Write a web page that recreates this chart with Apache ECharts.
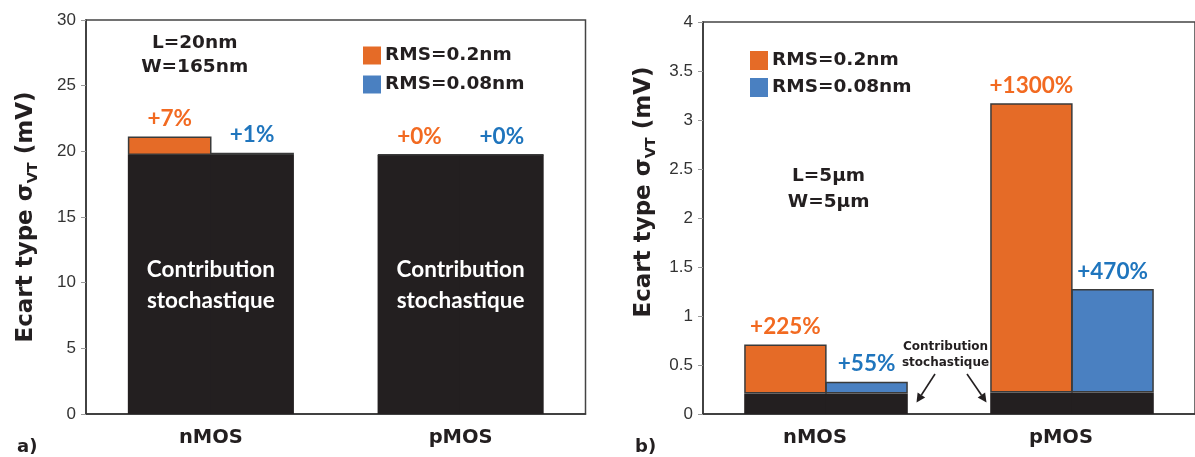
<!DOCTYPE html>
<html>
<head>
<meta charset="utf-8">
<script src="https://cdn.jsdelivr.net/npm/echarts@6/dist/echarts.min.js"></script>
<style>
  html, body { margin: 0; padding: 0; background: #fff; }
  #chart { width: 1195px; height: 457px; }
</style>
</head>
<body>
<div id="chart"></div>
<script>
// categories
const categories = ['nMOS', 'pMOS']

// a) L=20nm, W=165nm  (mV)
const stochA = [19.73, 19.73]
const rms02A = [21.12, 19.76]
const rms008A = [19.9, 19.74]
const pct02A = ['+7%', '+0%']
const pct008A = ['+1%', '+0%']

// b) L=5µm, W=5µm  (mV)
const stochB = [0.21, 0.22]
const rms02B = [0.71, 3.17]
const rms008B = [0.33, 1.275]
const pct02B = ['+225%', '+1300%']
const pct008B = ['+55%', '+470%']

const BLACK = '#231f20'
const ORANGE = '#e56b27'
const BLUE = '#4a80c1'
const ORANGE_TXT = '#f26a21'
const BLUE_TXT = '#1f75bd'
const BOLD_FONT = 'DejaVu Sans'

const chart = echarts.init(document.getElementById('chart'))

// one chart = black base + coloured increment, two stacks side by side
const buildSeries = (idx, base, hi, lo, pctHi, pctLo) => {
    const common = {
        type: 'bar',
        xAxisIndex: idx,
        yAxisIndex: idx,
        // slight overlap so the two black bases read as one block
        barGap: '-1.5%',
        barCategoryGap: '33.5%'
    }
    const pctLabel = (texts, color) => ({
        show: true,
        position: 'top',
        distance: 6,
        formatter: (p) => texts[p.dataIndex],
        color: color,
        fontFamily: 'Lato',
        fontWeight: 'bold',
        fontSize: 22.5
    })
    return [
        {
            ...common,
            name: 'Contribution stochastique',
            stack: 'hi' + idx,
            data: base,
            itemStyle: { color: BLACK }
        },
        {
            ...common,
            name: 'RMS=0.2nm',
            stack: 'hi' + idx,
            data: hi.map((v, i) => +(v - base[i]).toFixed(3)),
            itemStyle: { color: ORANGE, borderColor: '#3a3a3a', borderWidth: 1.5 },
            label: pctLabel(pctHi, ORANGE_TXT)
        },
        {
            ...common,
            name: 'Contribution stochastique',
            stack: 'lo' + idx,
            data: base,
            itemStyle: { color: BLACK }
        },
        {
            ...common,
            name: 'RMS=0.08nm',
            stack: 'lo' + idx,
            data: lo.map((v, i) => +(v - base[i]).toFixed(3)),
            itemStyle: { color: BLUE, borderColor: '#3a3a3a', borderWidth: 1.5 },
            label: pctLabel(pctLo, BLUE_TXT)
        }
    ]
}

const yName = '{a|Ecart type σ}{b|VT}{a| (mV)}'
const yNameStyle = (pad) => ({
    padding: pad,
    rich: {
        a: { fontFamily: BOLD_FONT, fontWeight: 'bold', fontSize: 23, color: BLACK, lineHeight: 30, verticalAlign: 'middle' },
        b: { fontFamily: BOLD_FONT, fontWeight: 'bold', fontSize: 14.5, color: BLACK, lineHeight: 14, verticalAlign: 'bottom' }
    }
})

const yAxisBase = {
    type: 'value',
    min: 0,
    nameLocation: 'middle',
    nameRotate: 90,
    axisLine: { show: true, lineStyle: { color: '#333', width: 1.5 } },
    axisTick: { show: true, length: 5, lineStyle: { color: '#999' } },
    axisLabel: { fontFamily: 'Liberation Sans', fontSize: 17, color: '#333', margin: 10 },
    splitLine: { show: false }
}

const xAxisBase = {
    type: 'category',
    data: categories,
    axisLine: { lineStyle: { color: '#333', width: 1.5 } },
    axisTick: { show: false },
    axisLabel: { fontFamily: BOLD_FONT, fontWeight: 'bold', fontSize: 19.5, color: BLACK, margin: 14 }
}

const legendBase = {
    orient: 'vertical',
    data: ['RMS=0.2nm', 'RMS=0.08nm'],
    itemWidth: 18,
    icon: 'rect',
    itemStyle: { borderWidth: 0 },
    selectedMode: false,
    padding: 0,
    textStyle: { fontFamily: BOLD_FONT, fontWeight: 'bold', fontSize: 18.5, color: BLACK, padding: [0, 0, 0, -1] }
}

chart.setOption({
    animation: false,
    grid: [
        { left: 86, top: 20, width: 499.5, height: 394, show: true, borderColor: '#444', borderWidth: 1.5 },
        { left: 703, top: 22, width: 495, height: 392, show: true, borderColor: '#444', borderWidth: 1.5 }
    ],
    xAxis: [
        { ...xAxisBase, gridIndex: 0 },
        { ...xAxisBase, gridIndex: 1, axisLabel: { ...xAxisBase.axisLabel, padding: [0, 22, 0, 0] } }
    ],
    yAxis: [
        { ...yAxisBase, gridIndex: 0, max: 30, interval: 5, name: yName, nameGap: 45, nameTextStyle: yNameStyle(0) },
        { ...yAxisBase, gridIndex: 1, max: 4, interval: 0.5, name: yName, nameGap: 44, nameTextStyle: yNameStyle([0, 0, 0, 52]) }
    ],
    legend: [
        { ...legendBase, left: 363, top: 46, itemHeight: 18, itemGap: 10 },
        { ...legendBase, left: 750, top: 51, itemHeight: 19, itemGap: 8 }
    ],
    series: [
        ...buildSeries(0, stochA, rms02A, rms008A, pct02A, pct008A),
        ...buildSeries(1, stochB, rms02B, rms008B, pct02B, pct008B)
    ]
})

// annotations
const arrow = (x1, y1, x2, y2) => {
    const ang = Math.atan2(y2 - y1, x2 - x1)
    const len = 9
    const half = 4.5
    const bx = x2 - len * Math.cos(ang)
    const by = y2 - len * Math.sin(ang)
    return [
        { type: 'line', silent: true, shape: { x1, y1, x2: bx, y2: by }, style: { stroke: BLACK, lineWidth: 1.6 } },
        {
            type: 'polygon',
            silent: true,
            shape: {
                points: [
                    [x2, y2],
                    [bx + half * Math.sin(ang), by - half * Math.cos(ang)],
                    [bx - half * Math.sin(ang), by + half * Math.cos(ang)]
                ]
            },
            style: { fill: BLACK }
        }
    ]
}

const boldText = (x, y, text, size, lh) => ({
    type: 'text',
    silent: true,
    x, y,
    style: {
        text, fill: BLACK, font: `bold ${size}px "${BOLD_FONT}"`,
        align: 'center', verticalAlign: 'middle', lineHeight: lh
    }
})

// white text inside the black bars of chart a)
const insideText = categories.map((c, i) => {
    const pt = chart.convertToPixel({ gridIndex: 0 }, [i, 9.8])
    return {
        type: 'text',
        silent: true,
        z: 100,
        x: pt[0],
        y: pt[1],
        style: {
            text: 'Contribution\nstochastique', fill: '#ffffff', font: 'bold 22.5px Lato',
            align: 'center', verticalAlign: 'middle', lineHeight: 31
        }
    }
})

chart.setOption({
    graphic: [
        boldText(194.7, 55, 'L=20nm\nW=165nm', 18.5, 24),
        boldText(828.6, 189, 'L=5µm\nW=5µm', 18.5, 26),
        boldText(945.5, 355, 'Contribution\nstochastique', 12, 16),
        ...arrow(935, 374, 916.5, 402.5),
        ...arrow(967, 374, 986.5, 402.5),
        ...insideText,
        { type: 'text', silent: true, x: 17, y: 447, style: { text: 'a)', fill: BLACK, font: `bold 18px "${BOLD_FONT}"`, verticalAlign: 'middle' } },
        { type: 'text', silent: true, x: 635, y: 447, style: { text: 'b)', fill: BLACK, font: `bold 18px "${BOLD_FONT}"`, verticalAlign: 'middle' } }
    ]
})

window.addEventListener('resize', () => {
    chart.resize()
})
</script>
</body>
</html>
